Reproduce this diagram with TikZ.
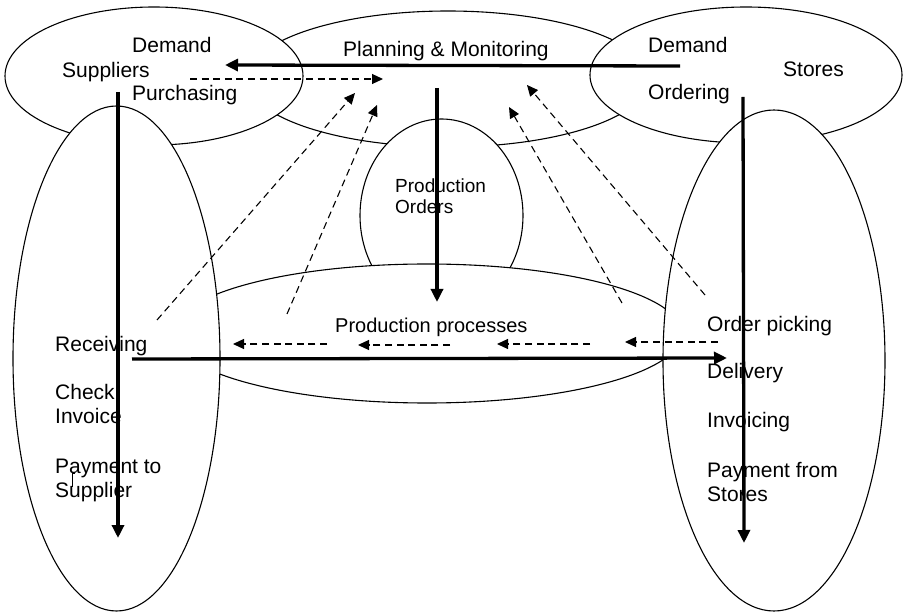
\documentclass[tikz,border=0pt]{standalone}
\usepackage{fontspec}
\setmainfont{Liberation Sans}
\usetikzlibrary{shapes.geometric,arrows.meta}
\begin{document}
\begin{tikzpicture}[x=1pt,y=-1pt,
  region/.style={ellipse, draw, fill=white, line width=1.1pt, inner sep=0pt, outer sep=0pt},
  lbl/.style={anchor=base west, inner sep=0pt, font=\fontsize{21}{24}\selectfont},
  flow/.style={line width=3.3pt, -{Triangle[length=13pt,width=12pt]}},
  info/.style={line width=1.1pt, dash pattern=on 7pt off 4.6pt, -{Triangle[length=11pt,width=10pt]}}]
  \useasboundingbox[fill=white] (0,0) rectangle (903,612);

  % areas, back to front
  \node[region, minimum width=402pt, minimum height=136pt] (plan) at (448,79) {};
  \node[region, minimum width=298pt, minimum height=138pt] (supp) at (154,76) {};
  \node[region, minimum width=312pt, minimum height=136pt] (stor) at (746,75) {};
  \node[region, minimum width=163pt, minimum height=193pt] (pord) at (441.5,215.5) {};
  \node[region, minimum width=510pt, minimum height=139pt] (proc) at (427,333.5) {};
  \node[region, minimum width=207pt, minimum height=505pt] (inb) at (116.5,358.5) {};
  \node[region, minimum width=222pt, minimum height=501pt] (outb) at (774,360.5) {};

  % labels
  \node[lbl] (tDemL) at (132,53) {Demand};
  \node[lbl] (tSup) at (62,78) {Suppliers};
  \node[lbl] (tPur) at (132,101) {Purchasing};
  \node[lbl] (tPlan) at (343,57) {Planning \& Monitoring};
  \node[lbl] (tDemR) at (648,53) {Demand};
  \node[lbl] (tSto) at (783,77) {Stores};
  \node[lbl] (tOrd) at (648,100) {Ordering};
  \node[lbl, font=\fontsize{19}{21}\selectfont] (tPOa) at (395,193) {Production};
  \node[lbl, font=\fontsize{19}{21}\selectfont] (tPOb) at (395,214) {Orders};
  \node[lbl, font=\fontsize{20}{24}\selectfont] (tPP) at (335,333) {Production processes};
  \node[lbl] (tRec) at (55,352) {Receiving};
  \node[lbl] (tChkA) at (55,400) {Check};
  \node[lbl] (tChkB) at (55,424) {Invoice};
  \node[lbl] (tPayA) at (55,473) {Payment to};
  \node[lbl] (tPayB) at (55,497) {Supplier};
  \node[lbl] (tPick) at (707,332) {Order picking};
  \node[lbl] (tDel) at (707,379) {Delivery};
  \node[lbl] (tInv) at (707,428) {Invoicing};
  \node[lbl] (tPfA) at (707,477) {Payment from};
  \node[lbl] (tPfB) at (707,501) {Stores};

  % small stray mark beside the payment text
  \draw[line width=0.6pt] (75,473) -- (72,473) -- (72,487);

  % arrow end points
  \coordinate (demS) at (680,66);
  \coordinate (demE) at (225,65);
  \coordinate (purS) at (190,79);
  \coordinate (purE) at (383,79);
  \coordinate (r1S) at (157,320);
  \coordinate (r1E) at (355,93);
  \coordinate (r2S) at (287,314);
  \coordinate (r2E) at (377,105);
  \coordinate (s1S) at (622,303);
  \coordinate (s1E) at (509,107);
  \coordinate (s2S) at (705,295);
  \coordinate (s2E) at (527,85);
  \coordinate (inS) at (118,92);
  \coordinate (inE) at (118,538);
  \coordinate (poS) at (437,88);
  \coordinate (poE) at (437,302);
  \coordinate (outS) at (743,97);
  \coordinate (outE) at (744,543);
  \coordinate (matS) at (132,359);
  \coordinate (matE) at (727,358);
  \coordinate (b1S) at (327,344);
  \coordinate (b1E) at (233,344);
  \coordinate (b2S) at (450,345);
  \coordinate (b2E) at (358,345);
  \coordinate (b3S) at (590,344);
  \coordinate (b3E) at (497,344);
  \coordinate (b4S) at (718,342);
  \coordinate (b4E) at (625,342);

  % material and order flows
  \draw[flow] (demS) -- (demE);
  \draw[flow] (inS) -- (inE);
  \draw[flow] (poS) -- (poE);
  \draw[flow] (outS) -- (outE);
  \draw[flow] (matS) -- (matE);

  % information flows
  \draw[info] (purS) -- (purE);
  \draw[info] (r1S) -- (r1E);
  \draw[info] (r2S) -- (r2E);
  \draw[info] (s1S) -- (s1E);
  \draw[info] (s2S) -- (s2E);
  \draw[info] (b1S) -- (b1E);
  \draw[info] (b2S) -- (b2E);
  \draw[info] (b3S) -- (b3E);
  \draw[info] (b4S) -- (b4E);
\end{tikzpicture}
\end{document}
